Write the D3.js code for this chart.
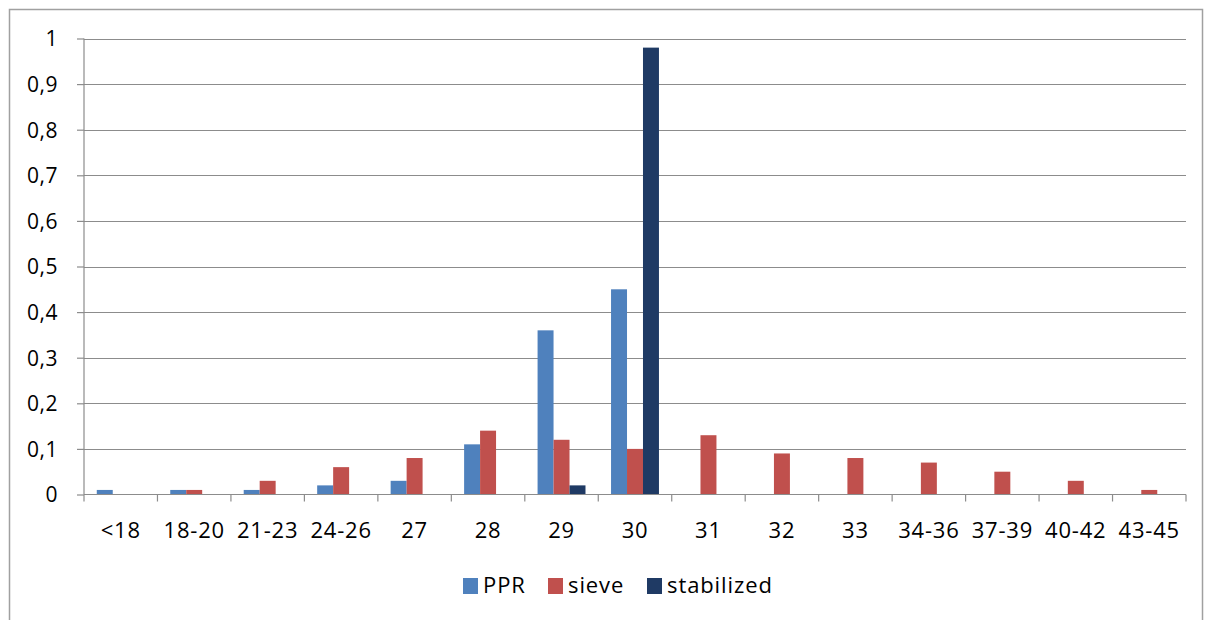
<!DOCTYPE html>
<html><head><meta charset="utf-8">
<script src="https://cdn.jsdelivr.net/npm/d3@7"></script>
<style>body{margin:0;background:#fff}svg{display:block}text{font-family:"Open Sans","Noto Sans",sans-serif}</style>
</head><body>
<svg id="c" width="1211" height="620"></svg>
<script>
const categories = ["<18","18-20","21-23","24-26","27","28","29","30","31","32","33","34-36","37-39","40-42","43-45"];
const seriesNames = ["PPR","sieve","stabilized"];
const ppr = [0.01,0.01,0.01,0.02,0.03,0.11,0.36,0.45,0,0,0,0,0,0,0];
const sieve = [0,0.01,0.03,0.06,0.08,0.14,0.12,0.10,0.13,0.09,0.08,0.07,0.05,0.03,0.01];
const stabilized = [0,0,0,0,0,0,0.02,0.98,0,0,0,0,0,0,0];
const yTicks = [0,0.1,0.2,0.3,0.4,0.5,0.6,0.7,0.8,0.9,1];
const colors = ["#4F81BD","#C0504D","#1F3A64"];

const svg = d3.select("#c");
svg.append("rect").attr("x",9.5).attr("y",9.5).attr("width",1193).attr("height",620).attr("fill","none").attr("stroke","#a0a0a0").attr("stroke-width",1.5);

const L=84, R=1186, T=38.5, B=494.5;
const x = d3.scaleBand().domain(categories).range([L,R]);
const xs = d3.scaleBand().domain(seriesNames).range([0,x.bandwidth()]).paddingInner(0).paddingOuter(0.8);
const y = d3.scaleLinear().domain([0,1]).range([B,T]);

// gridlines
svg.append("g").selectAll("line").data(yTicks.slice(1)).join("line")
  .attr("x1",L).attr("x2",R).attr("y1",d=>Math.round(y(d))+0.5).attr("y2",d=>Math.round(y(d))+0.5)
  .attr("stroke","#8c8c8c").attr("stroke-width",1.2);

const data = [ppr,sieve,stabilized];
const g = svg.append("g");
seriesNames.forEach((s,si)=>{
  g.selectAll(null).data(categories.map((c,i)=>({c,v:data[si][i]})).filter(d=>d.v>0)).join("rect")
    .attr("x",d=>x(d.c)+xs(s)).attr("width",xs.bandwidth())
    .attr("y",d=>y(d.v)).attr("height",d=>B-y(d.v)).attr("fill",colors[si]);
});

// y axis
const ya = svg.append("g").attr("transform",`translate(${L},0)`)
  .call(d3.axisLeft(y).tickValues(yTicks).tickSize(7).tickPadding(19).tickFormat(d=>d3.format(".1~f")(d).replace(".",",")));
ya.select(".domain").attr("stroke","#8c8c8c").attr("stroke-width",1.2).attr("d",`M0,${T}V${B}`);
ya.selectAll(".tick line").attr("stroke","#8c8c8c").attr("stroke-width",1.2);
ya.selectAll(".tick text").attr("font-size",21).attr("fill","#000").attr("letter-spacing","0.5px").attr("dy","0.35em");

// x axis
const xa = svg.append("g").attr("transform",`translate(0,${B})`)
  .call(d3.axisBottom(x).tickSize(0).tickPadding(28));
xa.select(".domain").attr("stroke","#8c8c8c").attr("stroke-width",1.2).attr("d",`M${L},0H${R}`);
xa.selectAll(".tick text").attr("font-size",22).attr("fill","#000").attr("letter-spacing","0.8px");
xa.append("g").selectAll("line").data(d3.range(categories.length+1)).join("line")
  .attr("x1",i=>L+i*x.step()).attr("x2",i=>L+i*x.step()).attr("y1",0).attr("y2",7)
  .attr("stroke","#8c8c8c").attr("stroke-width",1.2);

// legend
const legX = [463,548,647];
const leg = svg.append("g");
seriesNames.forEach((s,i)=>{
  leg.append("rect").attr("x",legX[i]).attr("y",578).attr("width",15).attr("height",16).attr("fill",colors[i]);
  leg.append("text").attr("x",legX[i]+20).attr("y",593).attr("font-size",22).attr("letter-spacing","0.9px").attr("fill","#000").text(s);
});
</script>
</body></html>
